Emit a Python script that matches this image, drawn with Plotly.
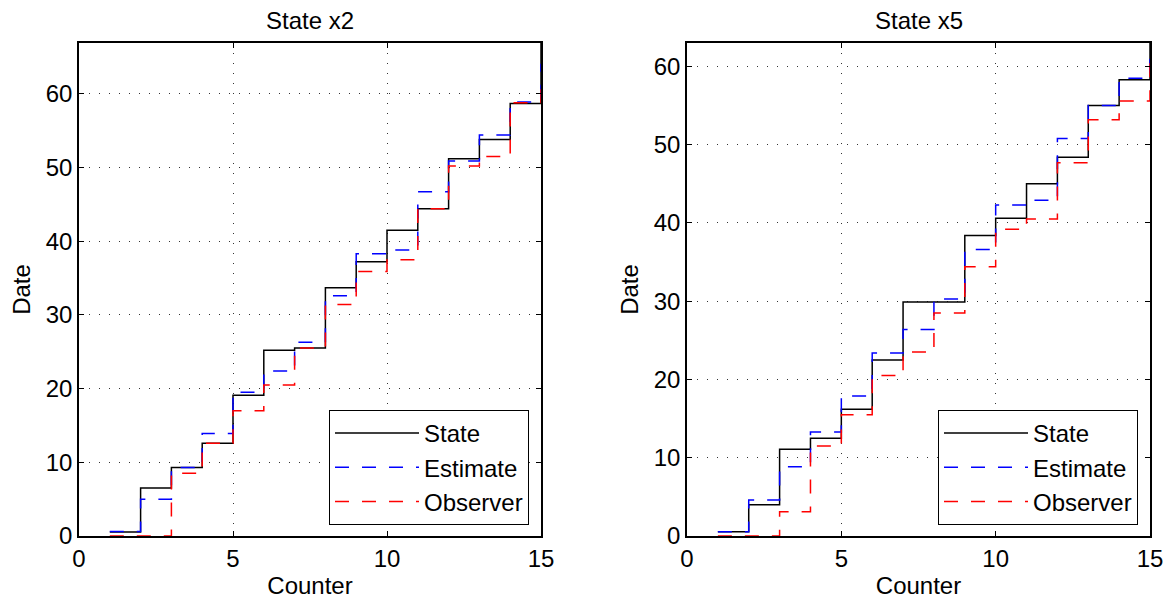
import plotly.graph_objects as go

counter = list(range(1, 16))

# State x2 panel
state_x2 = [0.55, 6.5, 9.3, 12.6, 19.1, 25.2, 25.5, 33.7, 37.2, 41.5, 44.4, 51.2, 53.8, 58.7, 66.9]
estimate_x2 = [0.6, 5.0, 9.3, 13.9, 19.5, 22.4, 26.3, 32.6, 38.3, 38.8, 46.7, 50.9, 54.4, 58.9, 64.1]
observer_x2 = [0.0, 0.0, 8.5, 12.6, 17.0, 20.5, 25.5, 31.4, 35.9, 37.5, 44.4, 50.2, 51.5, 58.8, 61.0]

# State x5 panel
state_x5 = [0.55, 4.0, 11.1, 12.5, 16.2, 22.5, 29.9, 29.9, 38.4, 40.6, 45.0, 48.4, 55.0, 58.3, 63.0]
estimate_x5 = [0.55, 4.6, 8.85, 13.3, 17.9, 23.4, 26.4, 30.3, 36.6, 42.3, 42.9, 50.8, 55.0, 58.5, 61.5]
observer_x5 = [0.0, 0.0, 3.1, 11.5, 15.5, 20.5, 23.5, 28.5, 34.4, 39.2, 40.5, 47.7, 53.2, 55.6, 60.8]

titles = ["State x2", "State x5"]
x_ticks = [0, 5, 10, 15]
y_ticks = [0, 10, 20, 30, 40, 50, 60]
y_max = [66.9, 63.0]

FONT = "Liberation Sans, Arial, Helvetica, sans-serif"
FS = 24
OFF = 8  # page body margin offset
W, H = 1172 - OFF, 601 - OFF


def px(sx):
    return (sx - OFF) / W


def py(sy):
    return (H - (sy - OFF)) / H


fig = go.Figure()

panels = [
    (state_x2, estimate_x2, observer_x2, "x", "y", "legend"),
    (state_x5, estimate_x5, observer_x5, "x2", "y2", "legend2"),
]
dash = "14px,13px"
for st, es, ob, xa, ya, lg in panels:
    fig.add_trace(go.Scatter(x=counter, y=st, mode="lines", line_shape="hv",
                             line=dict(color="black", width=1.5), name="State",
                             xaxis=xa, yaxis=ya, legend=lg))
    fig.add_trace(go.Scatter(x=counter, y=es, mode="lines", line_shape="hv",
                             line=dict(color="#0000ff", width=1.5, dash=dash), name="Estimate",
                             xaxis=xa, yaxis=ya, legend=lg))
    fig.add_trace(go.Scatter(x=counter, y=ob, mode="lines", line_shape="hv",
                             line=dict(color="#ff0000", width=1.5, dash=dash), name="Observer",
                             xaxis=xa, yaxis=ya, legend=lg))

dom_x = [[px(79), px(541)], [px(687), px(1150)]]
dom_y = [py(536), py(43)]


def axis_common():
    return dict(
        showline=True, linecolor="black", linewidth=1.5, mirror="ticks",
        ticks="inside", ticklen=5, tickwidth=1, tickcolor="black",
        showgrid=True, gridcolor="rgba(0,0,0,0.8)", griddash="1px,9px", gridwidth=1,
        zeroline=False, tickfont=dict(family=FONT, size=FS, color="black"),
        ticklabelstandoff=0, automargin=False,
    )


for i in range(2):
    sfx = "" if i == 0 else str(i + 1)
    xa = axis_common()
    xa.update(domain=dom_x[i], range=[0, 15], tickvals=x_ticks, anchor="y" + sfx,
              title=dict(text="Counter", font=dict(family=FONT, size=FS, color="black"), standoff=7))
    ya = axis_common()
    ya.update(domain=dom_y, range=[0, y_max[i]], tickvals=y_ticks, anchor="x" + sfx,
              title=dict(text="Date", font=dict(family=FONT, size=FS, color="black"), standoff=8))
    fig.layout["xaxis" + sfx] = xa
    fig.layout["yaxis" + sfx] = ya
    fig.add_annotation(text=titles[i], xref="paper", yref="paper",
                       x=(dom_x[i][0] + dom_x[i][1]) / 2, y=py(8.5),
                       xanchor="center", yanchor="top", height=22, valign="middle",
                       borderpad=0, showarrow=False,
                       font=dict(family=FONT, size=FS, color="black"))

leg_common = dict(bgcolor="white", bordercolor="black", borderwidth=1,
                  font=dict(family=FONT, size=FS, color="black"),
                  xanchor="right", yanchor="bottom", itemwidth=84,
                  tracegroupgap=0)
fig.update_layout(
    width=W, height=H,
    margin=dict(l=0, r=0, t=0, b=0),
    paper_bgcolor="white", plot_bgcolor="white",
    showlegend=True,
    legend=dict(x=px(529), y=py(525), **leg_common),
    legend2=dict(x=px(1138), y=py(525), **leg_common),
)

fig.write_html("out.html")
